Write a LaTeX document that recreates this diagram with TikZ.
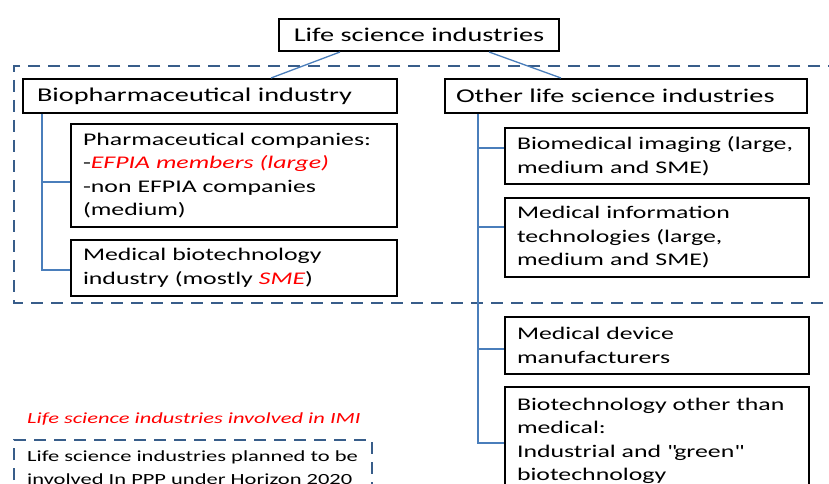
\documentclass[tikz,border=0pt]{standalone}
\usepackage{fontspec}
\setmainfont{Carlito}[FakeStretch=1.45]
\definecolor{connblue}{RGB}{74,126,187}
\definecolor{dashblue}{RGB}{56,93,138}
\newcommand\strq{\XeTeXglyph\XeTeXcharglyph"22\relax}
\begin{document}
\begin{tikzpicture}[x=1pt,y=-1pt,
  box/.style={draw=black, line width=2pt, anchor=north west, inner ysep=0pt, align=left,
    font=\fontsize{17.8}{23.5}\selectfont},
  bigbox/.style={draw=black, line width=2pt, anchor=north west, inner ysep=0pt,
    font=\fontsize{19.5}{23.5}\selectfont},
  conn/.style={draw=connblue, line width=1.3pt},
  dashline/.style={draw=dashblue, line width=2.6pt, dash pattern=on 12pt off 8pt},
  note/.style={anchor=base west, align=left, inner sep=0pt, font=\fontsize{15.5}{23}\selectfont}]
\useasboundingbox (0,0) rectangle (829,484);
\clip (0,0) rectangle (829,484);
% dashed regions
\draw[dashline] (840,66) -- (14,66) -- (14,303) -- (840,303);
\draw[dashline] (14,500) -- (14,440) -- (372,440) -- (372,500);
% nodes
\node[bigbox, align=center, minimum width=280pt, minimum height=32pt] (title) at (278,18) {Life science industries};
\node[bigbox, align=left, inner xsep=14pt, minimum width=374pt, minimum height=34pt, text width=346pt] (biopharm) at (22,78) {Biopharmaceutical industry};
\node[bigbox, align=left, inner xsep=11pt, minimum width=362pt, minimum height=34pt, text width=340pt] (other) at (444,78) {Other life science industries};
\node[box, inner xsep=12pt, minimum width=326pt, minimum height=103pt, text width=302pt] (pharm) at (70,123)
  {Pharmaceutical companies:\\-{\color{red}\itshape EFPIA members (large)}\\-non EFPIA companies\\(medium)};
\node[box, inner xsep=12pt, minimum width=326pt, minimum height=56pt, text width=302pt] (medbio) at (70,239)
  {Medical biotechnology\\industry (mostly {\color{red}\itshape SME})};
\node[box, inner xsep=12pt, minimum width=301pt, minimum height=56pt, text width=280pt] (bioimg) at (504,127)
  {Biomedical imaging (large,\\medium and SME)};
\node[box, inner xsep=12pt, minimum width=301pt, minimum height=79pt, text width=280pt] (medinfo) at (504,197)
  {Medical information\\technologies (large,\\medium and SME)};
\node[box, inner xsep=12pt, minimum width=301pt, minimum height=57pt, text width=280pt] (device) at (504,316)
  {Medical device\\manufacturers};
\node[box, inner xsep=12pt, minimum width=301pt, minimum height=108pt, text width=280pt] (biotech) at (504,386)
  {Biotechnology other than\\medical:\\Industrial and \strq green\strq\\biotechnology};
% connectors
\draw[conn] ([xshift=62pt]title.south west) -- ([xshift=249pt]biopharm.north west);
\draw[conn] ([xshift=211pt]title.south west) -- ([xshift=117pt]other.north west);
\coordinate (lv) at (42,0);
\coordinate (rv) at (478,0);
\draw[conn] (biopharm.south -| lv) |- ([yshift=-2pt]medbio.west);
\draw[conn] ([yshift=-6.5pt]pharm.west -| lv) -- ([yshift=-6.5pt]pharm.west);
\draw[conn] (other.south -| rv) |- ([yshift=-2pt]biotech.west);
\draw[conn] ([yshift=8pt]bioimg.west -| rv) -- ([yshift=8pt]bioimg.west);
\draw[conn] ([yshift=10.5pt]medinfo.west -| rv) -- ([yshift=10.5pt]medinfo.west);
\draw[conn] ([yshift=-3.5pt]device.west -| rv) -- ([yshift=-3.5pt]device.west);
% notes
\node[note, text=red, font=\fontsize{15.5}{23}\selectfont\itshape] (imi) at (27,423) {Life science industries involved in IMI};
\node[note] (ppp) at (27,484) {Life science industries planned to be\\involved In PPP under Horizon 2020};
\end{tikzpicture}
\end{document}
